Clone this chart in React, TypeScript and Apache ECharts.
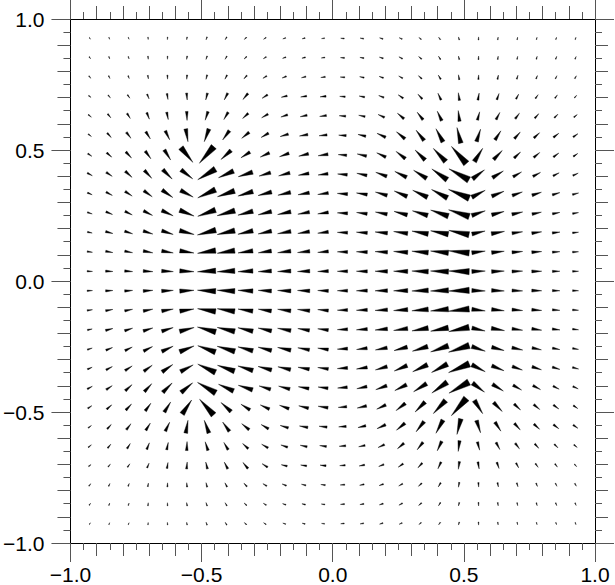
import React, { useEffect, useRef } from "react";
import * as echarts from "echarts";

// grid coordinates of the glyphs (data units)
const X_GRID = [-0.926, -0.852, -0.778, -0.704, -0.63, -0.556, -0.481, -0.407, -0.333, -0.259, -0.185, -0.111, -0.037,
  0.037, 0.111, 0.185, 0.259, 0.333, 0.407, 0.481, 0.556, 0.63, 0.704, 0.778, 0.852, 0.926];
const Y_GRID = [0.926, 0.852, 0.778, 0.704, 0.63, 0.556, 0.481, 0.407, 0.333, 0.259, 0.185, 0.111, 0.037,
  -0.037, -0.111, -0.185, -0.259, -0.333, -0.407, -0.481, -0.556, -0.63, -0.704, -0.778, -0.852, -0.926];

// vector magnitude (arbitrary units), rows top -> bottom, columns left -> right
const MAG_ROWS: number[][] = [
  [2, 2, 2, 2.3, 2.5, 2.7, 3, 3, 3, 3, 3, 3, 3, 3.5, 3.5, 3.5, 3.3, 3, 3, 3, 3, 2.7, 2.5, 2.3, 2.3, 2.3],
  [2.5, 2.5, 2.5, 3, 3, 3.3, 3.5, 3.5, 3.5, 3.5, 3.5, 3.5, 3.5, 4, 4, 4, 4, 3.8, 3.8, 3.5, 3.5, 3.3, 3, 3, 3, 2.8],
  [3, 3, 3, 3.5, 4, 4.3, 4.5, 4.5, 4.5, 4.5, 4.5, 4.5, 4.5, 4.5, 4.5, 4.5, 4.5, 4.5, 4.8, 4.8, 4.5, 4.3, 4, 3.5, 3.3, 3.2],
  [3, 3.5, 4, 5, 6, 7, 7, 7.5, 7.8, 6.5, 6, 6, 6, 5.5, 5.5, 5.5, 6, 6.5, 7.3, 7.7, 7, 6.5, 5.5, 4.7, 4, 3.3],
  [4, 5, 6, 7, 7.5, 9, 9, 8.5, 7.5, 7.3, 7, 7, 6.8, 6.5, 6.5, 7, 8.5, 9.5, 10.5, 10.8, 8.5, 8, 7, 6, 5, 4.3],
  [4, 6, 7.5, 8.5, 10, 13, 13.5, 11.5, 9.5, 8.5, 8.5, 8.5, 8, 7.5, 8, 9.5, 11, 13, 15, 16, 13, 10.7, 8.7, 7.7, 6.7, 5.7],
  [4.8, 6.6, 8.3, 9.5, 12, 19, 22, 13.5, 10.6, 10, 10, 10, 10, 8.5, 9.5, 10, 11.7, 14, 18, 22.7, 15.7, 12.4, 8.7, 7.8, 6.7, 5.3],
  [5.6, 7.2, 9, 10.8, 13.2, 14.7, 20.6, 16.4, 15, 12, 11.6, 10.7, 10, 9.7, 10.3, 11.7, 13.2, 15.3, 18.7, 22.8, 15, 12.8, 9.7, 8.5, 6.7, 5.8],
  [5, 7, 8.4, 10.3, 13, 14.3, 19.5, 18, 15.7, 14, 13, 11.5, 10.7, 10.3, 10.9, 12.2, 14, 16.3, 18, 22.5, 15, 13.2, 10.7, 9.8, 7.8, 6.3],
  [5, 7, 8, 10, 12.5, 15.5, 18.8, 18.4, 15.5, 13.8, 13.5, 11.8, 10.7, 10.3, 10.7, 12, 13.7, 16, 18.7, 21.7, 14.2, 12.8, 11, 9.5, 7.5, 6],
  [4.8, 7.5, 8.3, 10, 12, 15, 19, 18, 15.4, 13.7, 13.5, 11.8, 10.7, 10.3, 11, 12.5, 14.2, 16.5, 18, 20.7, 13.5, 13.3, 10.7, 10, 7.7, 6],
  [5.3, 7.3, 8, 9.7, 11.7, 14.3, 18.3, 17.7, 15, 13.3, 13.3, 12.3, 10.7, 10.3, 11, 12.5, 14.2, 16.5, 18, 20.7, 13.5, 12.7, 10.7, 10, 7.5, 6],
  [5.3, 7.3, 8, 9.7, 11.7, 14.3, 18.3, 17.7, 15, 13.3, 13.3, 12.3, 10.7, 10.3, 11, 12.5, 14.2, 16.5, 18, 20.7, 13.5, 12.7, 10.7, 10, 7.5, 6],
  [5.3, 7.3, 8, 9.7, 11.7, 14.3, 18.3, 17.7, 15, 13.3, 13.3, 12.3, 10.7, 10.3, 11, 12.5, 14.2, 16.5, 18, 20.7, 13.5, 12.7, 10.7, 10, 7.5, 6],
  [5.3, 7.3, 8, 9.7, 11.7, 14.3, 18.3, 17.7, 15, 13.3, 13.3, 12.3, 10.7, 10.3, 11, 12.5, 14.2, 16.5, 18, 20.7, 13.5, 12.7, 10.7, 10, 7.5, 6],
  [4.8, 7.5, 8.3, 10, 12, 15, 19, 18, 15.4, 13.7, 13.5, 11.8, 10.7, 10.3, 11, 12.5, 14.2, 16.5, 18, 20.7, 13.5, 13.3, 10.7, 10, 7.7, 6],
  [5, 7, 8, 10, 12.5, 15.5, 18.8, 18.4, 15.5, 13.8, 13.5, 11.8, 10.7, 10.3, 10.7, 12, 13.7, 16, 18.7, 21.7, 14.2, 12.8, 11, 9.5, 7.5, 6],
  [5, 7, 8.4, 10.3, 13, 14.3, 19.5, 18, 15.7, 14, 13, 11.5, 10.7, 10.3, 10.9, 12.2, 14, 16.3, 18, 22.5, 15, 13.2, 10.7, 9.8, 7.8, 6.3],
  [5.6, 7.2, 9, 10.8, 13.2, 15, 21, 16.4, 15, 12, 11.6, 10.7, 10, 9.7, 10.3, 11.7, 13.2, 15.3, 18.7, 22.8, 15, 12.8, 9.7, 8.5, 6.7, 5.8],
  [4.8, 6.6, 8.3, 9.5, 12, 17, 21, 13.5, 10.6, 10, 10, 10, 10, 8.5, 9.5, 10, 11.7, 14, 18, 23, 15.7, 12.4, 8.7, 7.8, 6.7, 5.3],
  [4, 6, 7.5, 8.5, 10, 13, 13.5, 11.5, 9.5, 8.5, 8.5, 8.5, 8, 7.5, 8, 9.5, 11, 13, 15, 16, 13, 10.7, 8.7, 7.7, 6.7, 5.7],
  [4, 5, 6, 7, 7.5, 9, 9, 8.5, 7.5, 7.3, 7, 7, 6.8, 6.5, 6.5, 7, 8.5, 9.5, 10.5, 10.8, 8.5, 8, 7, 6, 5, 4.3],
  [3, 3.5, 4, 5, 6, 7, 7, 7.5, 7.8, 6.5, 6, 6, 6, 5.5, 5.5, 5.5, 6, 6.5, 7.3, 7.7, 7, 6.5, 5.5, 4.7, 4, 3.3],
  [3, 3, 3, 3.5, 4, 4.3, 4.5, 4.5, 4.5, 4.5, 4.5, 4.5, 4.5, 4.5, 4.5, 4.5, 4.5, 4.5, 4.8, 4.8, 4.5, 4.3, 4, 3.5, 3.3, 3.2],
  [2.5, 2.5, 2.5, 3, 3, 3.3, 3.5, 3.5, 3.5, 3.5, 3.5, 3.5, 3.5, 4, 4, 4, 4, 3.8, 3.8, 3.5, 3.5, 3.3, 3, 3, 3, 2.8],
  [2, 2, 2, 2.3, 2.5, 2.7, 3, 3, 3, 3, 3, 3, 3, 3.5, 3.5, 3.5, 3.3, 3, 3, 3, 3, 2.7, 2.5, 2.3, 2.3, 2.3],
];

// vector direction (degrees, counter-clockwise from +x), rows top -> bottom
const DIR_ROWS: number[][] = [
  [-50, -70, -65, -85, -95, -100, -110, -120, -135, -145, -160, -165, -172, 175, 170, 162, 155, 140, 125, 105, 88, 82, 78, 75, 72, 70],
  [-55, -70, -70, -85, -92, -100, -110, -120, -135, -148, -160, -167, -172, 176, 170, 162, 152, 140, 122, 103, 88, 82, 78, 74, 70, 66],
  [-50, -65, -68, -80, -88, -95, -105, -118, -132, -148, -158, -165, -172, 176, 168, 160, 150, 137, 120, 100, 87, 78, 72, 68, 64, 60],
  [-35, -49, -55, -67, -80, -85, -104, -117, -130, -147, -166, -171, -174, 176, 168, 158, 145, 132, 115, 98, 80, 70, 62, 55, 52, 48],
  [-40, -50, -58, -68, -78, -88, -108, -120, -138, -150, -162, -167, -172, 176, 168, 155, 140, 128, 115, 97, 75, 62, 53, 48, 44, 40],
  [-38, -48, -52, -58, -64, -80, -110, -126, -141, -150, -163, -170, -174, 177, 167, 155, 140, 128, 118, 104, 72, 57, 48, 43, 38, 35],
  [-34, -41, -47, -54, -58, -51, -131, -138, -148, -155, -160, -166, -171, 175, 167, 155, 142, 135, 133, 131, 58, 46, 43, 40, 37, 35],
  [-28, -34, -42, -47, -45, -38, -149, -156, -162, -163, -165, -170, -172, 175, 168, 160, 153, 148, 145, 151, 37, 32, 30, 28, 27, 25],
  [-23, -28, -33, -36, -35, -28, -155, -161, -163, -165, -167, -170, -172, 176, 171, 164, 157, 155, 152, 157, 27, 22, 20, 18, 17, 15],
  [-18, -22, -26, -27, -25, -22, -160, -164, -165, -166, -168, -170, -172, 177, 173, 169, 165, 163, 161, 162, 19, 15, 13, 12, 11, 10],
  [-13, -15, -18, -18, -18, -15, -165, -167, -167, -168, -170, -171, -173, 178, 176, 174, 172, 170, 169, 168, 13, 10, 8, 8, 7, 6],
  [-8, -10, -11, -11, -10, -9, -171, -171, -172, -172, -173, -174, -175, 179, 178, 177, 176, 175, 174, 174, 7, 6, 5, 4, 4, 3],
  [-3, -3, -4, -4, -3, -3, -177, -177, -177, -177, -178, -178, -178, 180, 179, 179, 179, 178, 178, 178, 2, 2, 2, 1, 1, 1],
  [3, 3, 4, 4, 3, 3, 177, 177, 177, 177, 178, 178, 178, -180, -179, -179, -179, -178, -178, -178, -2, -2, -2, -1, -1, -1],
  [8, 10, 11, 11, 10, 9, 171, 171, 172, 172, 173, 174, 175, -179, -178, -177, -176, -175, -174, -174, -7, -6, -5, -4, -4, -3],
  [13, 15, 18, 18, 18, 15, 165, 167, 167, 168, 170, 171, 173, -178, -176, -174, -172, -170, -169, -168, -13, -10, -8, -8, -7, -6],
  [18, 22, 26, 27, 25, 22, 160, 164, 165, 166, 168, 170, 172, -177, -173, -169, -165, -163, -161, -162, -19, -15, -13, -12, -11, -10],
  [23, 28, 33, 36, 35, 28, 155, 161, 163, 165, 167, 170, 172, -176, -171, -164, -157, -155, -152, -157, -27, -22, -20, -18, -17, -15],
  [28, 34, 42, 47, 45, 40, 150, 156, 162, 163, 165, 170, 172, -175, -168, -160, -153, -148, -145, -151, -37, -32, -30, -28, -27, -25],
  [34, 41, 47, 54, 58, 56, 132, 138, 148, 155, 160, 166, 171, -175, -167, -155, -142, -135, -133, -131, -58, -46, -43, -40, -37, -35],
  [38, 48, 52, 58, 64, 80, 110, 126, 141, 150, 163, 170, 174, -177, -167, -155, -140, -128, -118, -104, -72, -57, -48, -43, -38, -35],
  [40, 50, 58, 68, 78, 88, 108, 120, 138, 150, 162, 167, 172, -176, -168, -155, -140, -128, -115, -97, -75, -62, -53, -48, -44, -40],
  [35, 49, 55, 67, 80, 85, 104, 117, 130, 147, 166, 171, 174, -176, -168, -158, -145, -132, -115, -98, -80, -70, -62, -55, -52, -48],
  [50, 65, 68, 80, 88, 95, 105, 118, 132, 148, 158, 165, 172, -176, -168, -160, -150, -137, -120, -100, -87, -78, -72, -68, -64, -60],
  [55, 70, 70, 85, 92, 100, 110, 120, 135, 148, 160, 167, 172, -176, -170, -162, -152, -140, -122, -103, -88, -82, -78, -74, -70, -66],
  [50, 70, 65, 85, 95, 100, 110, 120, 135, 145, 160, 165, 172, -175, -170, -162, -155, -140, -125, -105, -88, -82, -78, -75, -72, -70],
];

const MAJOR_TICKS = [-1, -0.5, 0, 0.5, 1];
const TICK_LABELS = ["\u22121.0", "\u22120.5", "0.0", "0.5", "1.0"];

const VECTOR_SCALE = 0.0038; // data units per magnitude unit
const HALF_WIDTH_RATIO = 0.15;

function tickLabel(v: number): string {
  for (let i = 0; i < MAJOR_TICKS.length; i++) {
    if (Math.abs(MAJOR_TICKS[i] - v) < 1e-6) return TICK_LABELS[i];
  }
  return "";
}

const FONT = "'Liberation Sans', Helvetica, Arial, sans-serif";

function makeAxes(kind: "x" | "y") {
  const posA = kind === "x" ? "bottom" : "left";
  const posB = kind === "x" ? "top" : "right";
  const axes: any[] = [];
  [posA, posB].forEach((pos, idx) => {
    axes.push({
      type: "value",
      gridIndex: 0,
      position: pos,
      min: -1,
      max: 1,
      interval: 0.5,
      axisLine: { show: true, onZero: false, lineStyle: { color: "#000", width: 1 } },
      axisTick: { show: true, inside: false, length: 19, lineStyle: { color: "#555", width: 1 } },
      axisLabel: {
        show: idx === 0,
        formatter: tickLabel,
        color: "#000",
        fontSize: 21,
        fontFamily: FONT,
        margin: kind === "x" ? 21 : 26,
      },
      splitLine: { show: false },
    });
    axes.push({
      type: "value",
      gridIndex: 0,
      position: pos,
      min: -1,
      max: 1,
      interval: 0.1,
      axisLine: { show: false, onZero: false },
      axisTick: { show: true, inside: false, length: 13, lineStyle: { color: "#555", width: 1 } },
      minorTick: { show: true, splitNumber: 2, length: 7, lineStyle: { color: "#555", width: 1 } },
      axisLabel: { show: false },
      splitLine: { show: false },
    });
  });
  return axes;
}

export default function App() {
  const ref = useRef<HTMLDivElement>(null);

  useEffect(() => {
    document.body.style.margin = "0";
    if (!ref.current) return;
    const chart = echarts.init(ref.current, undefined, { renderer: "svg" });

    const data: number[][] = [];
    Y_GRID.forEach((y, i) => {
      X_GRID.forEach((x, j) => {
        data.push([x, y, MAG_ROWS[i][j], DIR_ROWS[i][j]]);
      });
    });

    chart.setOption({
      animation: false,
      backgroundColor: "#fff",
      grid: { left: 69, top: 19, width: 526, height: 526, containLabel: false },
      xAxis: makeAxes("x"),
      yAxis: makeAxes("y"),
      series: [
        {
          type: "custom",
          xAxisIndex: 0,
          yAxisIndex: 0,
          clip: false,
          encode: { x: 0, y: 1 },
          data,
          renderItem: (params: any, api: any) => {
            const x = api.value(0);
            const y = api.value(1);
            const m = api.value(2);
            const d = (api.value(3) * Math.PI) / 180;
            const L = m * VECTOR_SCALE;
            const dx = (Math.cos(d) * L) / 2;
            const dy = (Math.sin(d) * L) / 2;
            const head = api.coord([x + dx, y + dy]);
            const tail = api.coord([x - dx, y - dy]);
            const vx = head[0] - tail[0];
            const vy = head[1] - tail[1];
            const len = Math.hypot(vx, vy) || 1;
            const w = len * HALF_WIDTH_RATIO;
            const nx = (-vy / len) * w;
            const ny = (vx / len) * w;
            return {
              type: "polygon",
              shape: {
                points: [
                  head,
                  [tail[0] + nx, tail[1] + ny],
                  [tail[0] - nx, tail[1] - ny],
                ],
              },
              style: { fill: "#000", stroke: "#000", lineWidth: 0.4 },
            };
          },
        },
      ],
    });

    return () => {
      chart.dispose();
    };
  }, []);

  return <div ref={ref} style={{ width: 615, height: 585 }} />;
}
